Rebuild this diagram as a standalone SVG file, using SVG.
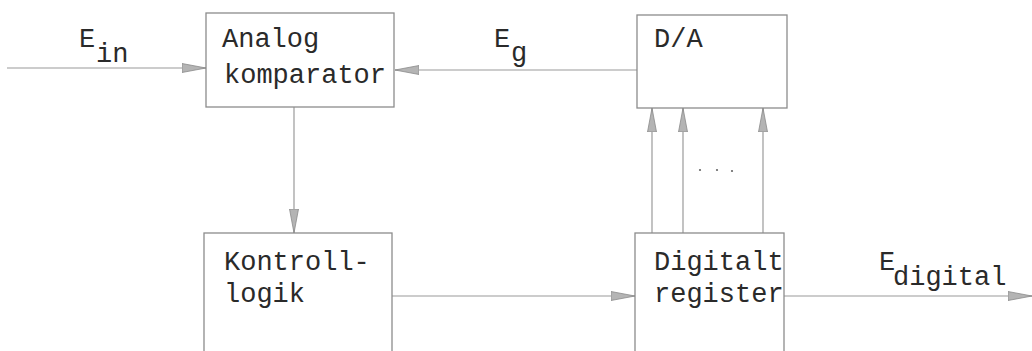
<svg xmlns="http://www.w3.org/2000/svg" width="1032" height="351" viewBox="0 0 1032 351">
  <defs>
    <style>
      .box { fill: #ffffff; stroke: #8c8c8c; stroke-width: 1.3; }
      .wire { fill: none; stroke: #9a9a9a; stroke-width: 1.2; }
      .lbl { font-family: "Liberation Mono", "DejaVu Sans Mono", monospace; font-size: 27px; fill: #2a2a2a; }
    </style>
    <marker id="arr" markerUnits="userSpaceOnUse" markerWidth="26" markerHeight="12" refX="24" refY="5" orient="auto">
      <path d="M0,0.5 L24,5 L0,9.5 Z" fill="#b4b4b4" stroke="#8a8a8a" stroke-width="0.8"/>
    </marker>
  </defs>
  <rect width="1032" height="351" fill="#ffffff"/>

  <g id="connectors">
    <line class="wire" x1="7" y1="68" x2="206" y2="68" marker-end="url(#arr)"/>
    <line class="wire" x1="637" y1="70" x2="395" y2="70" marker-end="url(#arr)"/>
    <line class="wire" x1="294" y1="107" x2="294" y2="233" marker-end="url(#arr)"/>
    <line class="wire" x1="392" y1="296" x2="635" y2="296" marker-end="url(#arr)"/>
    <line class="wire" x1="784" y1="296" x2="1032" y2="296" marker-end="url(#arr)"/>
    <line class="wire" x1="652" y1="233" x2="652" y2="108" marker-end="url(#arr)"/>
    <line class="wire" x1="683" y1="233" x2="683" y2="108" marker-end="url(#arr)"/>
    <line class="wire" x1="763" y1="233" x2="763" y2="108" marker-end="url(#arr)"/>
    <g fill="#666">
      <circle cx="700" cy="170" r="1.1"/>
      <circle cx="717" cy="170" r="1.1"/>
      <circle cx="732" cy="171" r="1.1"/>
    </g>
    <text class="lbl" x="79" y="47">E</text>
    <text class="lbl" x="96" y="62">in</text>
    <text class="lbl" x="494" y="47">E</text>
    <text class="lbl" x="511" y="61">g</text>
    <text class="lbl" x="879" y="270">E</text>
    <text class="lbl" x="893" y="285">digital</text>
  </g>

  <g id="analog-komparator">
    <rect class="box" x="206" y="13" width="188" height="94"/>
    <text class="lbl" x="222" y="47">Analog</text>
    <text class="lbl" x="224" y="83">komparator</text>
  </g>

  <g id="da">
    <rect class="box" x="637" y="15" width="150" height="93"/>
    <text class="lbl" x="654" y="47">D/A</text>
  </g>

  <g id="kontrollogik">
    <rect class="box" x="204" y="233" width="188" height="140"/>
    <text class="lbl" x="224" y="270">Kontroll-</text>
    <text class="lbl" x="224" y="302">logik</text>
  </g>

  <g id="digitalt-register">
    <rect class="box" x="635" y="233" width="149" height="140"/>
    <text class="lbl" x="654" y="270">Digitalt</text>
    <text class="lbl" x="654" y="302">register</text>
  </g>
</svg>
